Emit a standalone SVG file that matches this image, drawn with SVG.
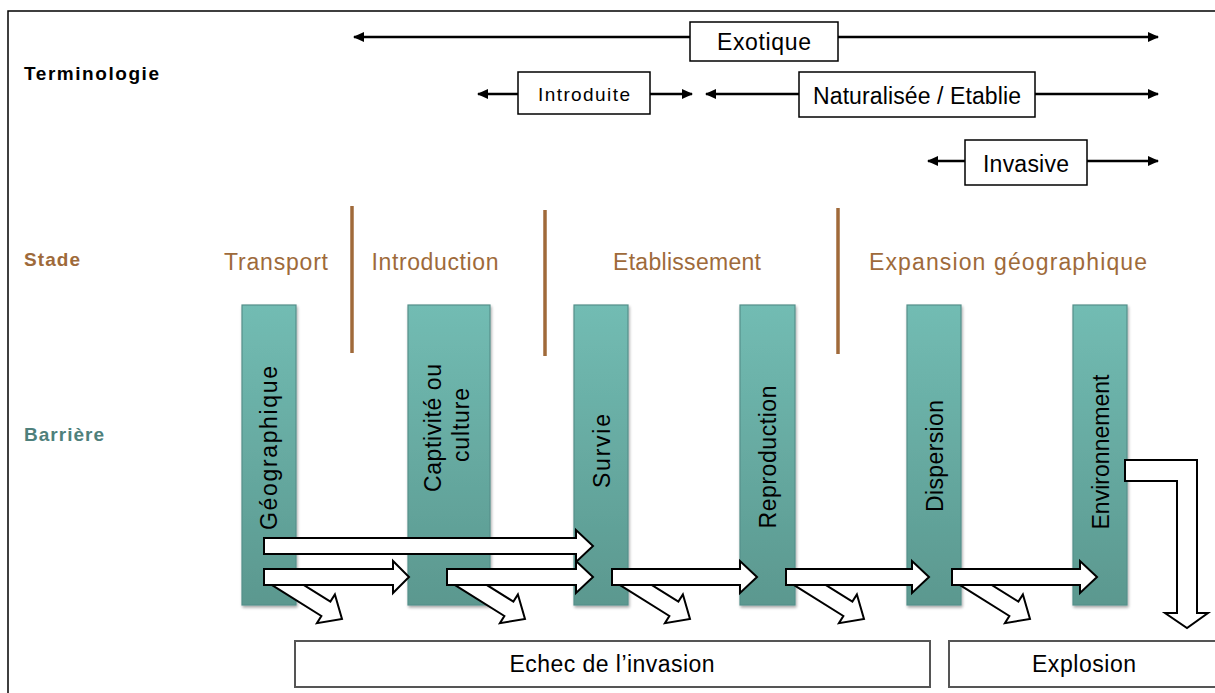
<svg xmlns="http://www.w3.org/2000/svg" width="1215" height="693" viewBox="0 0 1215 693">
<style>
.lbl{font-family:"Liberation Sans",Arial,sans-serif;font-weight:bold;font-size:19px}
.term{font-family:"Liberation Sans",Arial,sans-serif;font-size:23px;fill:#000;text-anchor:middle}
.stage{font-family:"Liberation Sans",Arial,sans-serif;font-size:23px;fill:#9E6A3A;text-anchor:middle}
.bar{fill:url(#teal);stroke:#55908A;stroke-width:1.2;filter:url(#sh)}
.bt{font-family:"Liberation Sans",Arial,sans-serif;font-size:23px;fill:#000;text-anchor:middle}
.box{fill:#fff;stroke:#000;stroke-width:1.5}
.bbox{fill:#fff;stroke:#555;stroke-width:2}
.tl{stroke:#000;stroke-width:2.5;fill:none;marker-end:url(#ah)}
.sep{stroke:#A06A3A;stroke-width:3.5}
.ba{fill:#fff;stroke:#000;stroke-width:2;stroke-linejoin:miter}
</style>
<defs>
<linearGradient id="teal" x1="0" y1="0" x2="0" y2="1">
<stop offset="0" stop-color="#72BCB3"/>
<stop offset="1" stop-color="#5B988F"/>
</linearGradient>
<filter id="sh" x="-20%" y="-5%" width="150%" height="115%">
<feGaussianBlur in="SourceAlpha" stdDeviation="1.5"/>
<feOffset dx="1" dy="2" result="b"/>
<feComponentTransfer><feFuncA type="linear" slope="0.35"/></feComponentTransfer>
<feMerge><feMergeNode/><feMergeNode in="SourceGraphic"/></feMerge>
</filter>
<marker id="ah" markerUnits="userSpaceOnUse" markerWidth="12" markerHeight="10" refX="10" refY="5" orient="auto">
<path d="M0,0 L11,5 L0,10 z" fill="#000"/>
</marker>
<path id="diag" d="M0,-8.5 H60 V-17 L79,0 L60,17 V8.5 H0 Z"/>
</defs>
<rect x="8" y="11" width="1300" height="800" fill="#fff" stroke="#000" stroke-width="1.5"/>

<g id="headers">
<text class="lbl" x="24" y="80" fill="#000" textLength="135">Terminologie</text>
<text class="lbl" x="24" y="266" fill="#9E6A3A" textLength="56">Stade</text>
<text class="lbl" x="24" y="441" fill="#4E807B" textLength="80">Barrière</text>
</g>

<g id="connectors">
<line class="tl" x1="690" y1="37" x2="354" y2="37"/>
<line class="tl" x1="838" y1="37" x2="1158" y2="37"/>
<line class="tl" x1="518" y1="94" x2="478" y2="94"/>
<line class="tl" x1="650" y1="94" x2="692" y2="94"/>
<line class="tl" x1="799" y1="94" x2="706" y2="94"/>
<line class="tl" x1="1035" y1="94" x2="1158" y2="94"/>
<line class="tl" x1="965" y1="161" x2="928" y2="161"/>
<line class="tl" x1="1087" y1="161" x2="1158" y2="161"/>
</g>

<g id="exotique"><rect class="box" x="690" y="22" width="148" height="39"/><text class="term" x="764" y="50" textLength="94">Exotique</text></g>
<g id="introduite"><rect class="box" x="518" y="72" width="132" height="42"/><text class="term" x="584" y="101" style="font-size:19px" textLength="92">Introduite</text></g>
<g id="naturalisee"><rect class="box" x="799" y="72" width="236" height="45"/><text class="term" x="917" y="104" textLength="208">Naturalisée / Etablie</text></g>
<g id="invasive"><rect class="box" x="965" y="140" width="122" height="45"/><text class="term" x="1026" y="172" textLength="86">Invasive</text></g>

<g id="stades">
<line class="sep" x1="352" y1="206" x2="352" y2="353"/>
<line class="sep" x1="545" y1="210" x2="545" y2="356"/>
<line class="sep" x1="838" y1="208" x2="838" y2="354"/>
<text class="stage" x="276" y="270" textLength="104">Transport</text>
<text class="stage" x="435" y="270" textLength="127">Introduction</text>
<text class="stage" x="687" y="270" textLength="148">Etablissement</text>
<text class="stage" x="1008" y="270" textLength="278">Expansion géographique</text>
</g>

<g id="geographique"><rect class="bar" x="242" y="305" width="54" height="300"/><text class="bt" transform="translate(277,448) rotate(-90)" textLength="164">Géographique</text></g>
<g id="captivite"><rect class="bar" x="408" y="305" width="82" height="300"/><text class="bt" transform="translate(441,428) rotate(-90)" textLength="128">Captivité ou</text><text class="bt" transform="translate(469,425) rotate(-90)" textLength="74">culture</text></g>
<g id="survie"><rect class="bar" x="574" y="305" width="54" height="300"/><text class="bt" transform="translate(610,451) rotate(-90)" textLength="74">Survie</text></g>
<g id="reproduction"><rect class="bar" x="740" y="305" width="55" height="300"/><text class="bt" transform="translate(776,457) rotate(-90)" textLength="143">Reproduction</text></g>
<g id="dispersion"><rect class="bar" x="907" y="305" width="54" height="300"/><text class="bt" transform="translate(943,456) rotate(-90)" textLength="112">Dispersion</text></g>
<g id="environnement"><rect class="bar" x="1073" y="305" width="54" height="300"/><text class="bt" transform="translate(1109,452) rotate(-90)" textLength="155">Environnement</text></g>

<g id="flow-arrows">
<use href="#diag" class="ba" transform="translate(275,577) rotate(32)"/>
<use href="#diag" class="ba" transform="translate(458,577) rotate(32)"/>
<use href="#diag" class="ba" transform="translate(623,577) rotate(32)"/>
<use href="#diag" class="ba" transform="translate(797,577) rotate(32)"/>
<use href="#diag" class="ba" transform="translate(963,577) rotate(32)"/>
<path class="ba" d="M264,538 H576 V530 L593,546 L576,562 V554 H264 Z"/>
<path class="ba" d="M264,569 H393 V561 L409,577 L393,593 V585 H264 Z"/>
<path class="ba" d="M447,569 H576 V561 L593,577 L576,593 V585 H447 Z"/>
<path class="ba" d="M612,569 H740 V561 L757,577 L740,593 V585 H612 Z"/>
<path class="ba" d="M786,569 H912 V561 L929,577 L912,593 V585 H786 Z"/>
<path class="ba" d="M952,569 H1080 V561 L1097,577 L1080,593 V585 H952 Z"/>
<path class="ba" d="M1125,460 H1197 V613 H1208 L1187,628 L1165,613 H1177 V481 H1125 Z"/>
</g>

<g id="echec"><rect class="bbox" x="295" y="641" width="635" height="46"/><text class="term" x="612" y="672" textLength="205">Echec de l’invasion</text></g>
<g id="explosion"><rect class="bbox" x="949" y="641" width="300" height="46"/><text class="term" x="1084" y="672" textLength="104">Explosion</text></g>
</svg>
